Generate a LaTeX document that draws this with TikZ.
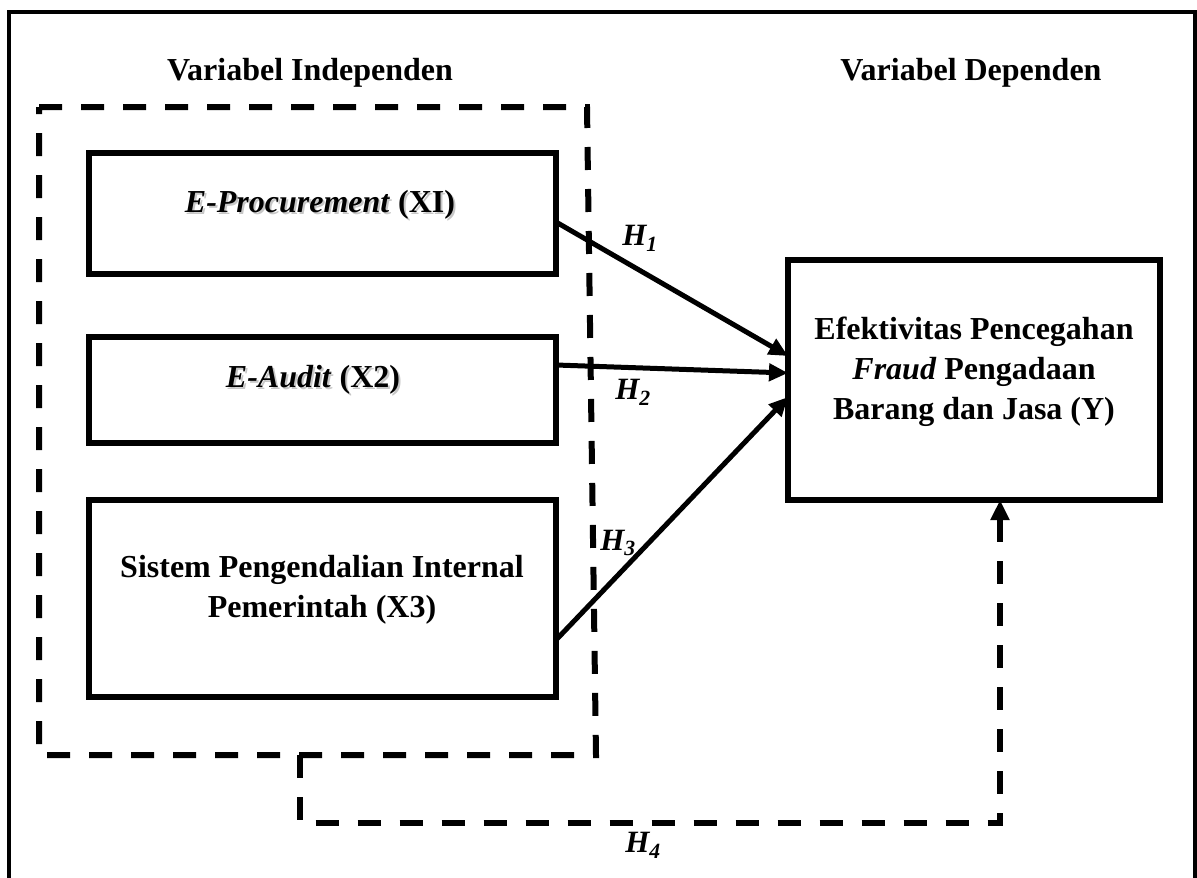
\documentclass[tikz,border=0pt]{standalone}
\usepackage{fontspec}
\setmainfont{Liberation Serif}
\usetikzlibrary{arrows.meta}
\begin{document}
\begin{tikzpicture}[x=1pt,y=-1pt,
  frameline/.style={line width=4.5pt},
  boxn/.style={draw, line width=5.5pt, inner sep=0pt, outer sep=0pt},
  txt/.style={font=\fontsize{32}{40}\selectfont\bfseries, inner sep=0pt, align=center},
  shadowtxt/.style={txt, text=black, opacity=0.22},
  hyp/.style={font=\fontsize{31}{36}\selectfont\bfseries\itshape, inner sep=0pt},
  arr/.style={line width=5pt, -{Triangle[length=19pt,width=17pt]}},
  dashline/.style={line width=6pt, dash pattern=on 23pt off 19pt},
]
\useasboundingbox (0,0) rectangle (1197,878);

% outer frame (bottom edge lies outside the picture)
\draw[frameline] (9,890) -- (9,12) -- (1195,12) -- (1195,890);

% titles
\node[txt, anchor=base] (tind) at (310,80) {Variabel Independen};
\node[txt, anchor=base] (tdep) at (971,80) {Variabel Dependen};

% dashed group box
\coordinate (g1) at (39,107);
\coordinate (g2) at (587,107);
\coordinate (g3) at (596,755);
\coordinate (g4) at (39,755);
\draw[dashline] (g1) -- (g2) -- (g3) -- (g4) -- cycle;

% boxes
\node[boxn, minimum width=467pt, minimum height=121pt] (X1) at (322.5,213.5) {};
\node[boxn, minimum width=467pt, minimum height=106pt] (X2) at (322.5,390) {};
\node[boxn, minimum width=467pt, minimum height=197pt] (X3) at (322.5,598.5) {};
\node[boxn, minimum width=372pt, minimum height=240pt] (Y) at (974,380) {};

% box texts
\node[shadowtxt, anchor=base] (X1s) at (322,214) {\textit{E-Procurement} (XI)};
\node[txt, anchor=base] (X1t) at (320,212) {\textit{E-Procurement} (XI)};
\node[shadowtxt, anchor=base] (X2s) at (315,389) {\textit{E-Audit} (X2)};
\node[txt, anchor=base] (X2t) at (313,387) {\textit{E-Audit} (X2)};
\node[txt] (X3t) at (322,590) {Sistem Pengendalian Internal\\Pemerintah (X3)};
\node[txt] (Yt) at (974,372) {Efektivitas Pencegahan\\\textit{Fraud} Pengadaan\\Barang dan Jasa (Y)};

% hypotheses arrows
\draw[arr] ([yshift=-8.5pt]X1.east) -- ([yshift=24pt]Y.west);
\draw[arr] ([yshift=25pt]X2.east) -- ([yshift=7pt]Y.west);
\draw[arr] ([yshift=-41.5pt]X3.east) -- ([yshift=-17pt]Y.west);

% H4 dashed connector
\coordinate (h4s) at (299.5,755);
\coordinate (h4c) at (1000,823);
\draw[dashline, -{Triangle[length=20pt,width=18pt]}] (h4s) |- (h4c) -- (h4c |- Y.south);

% labels
\node[hyp] (H1) at (640,238) {H\textsubscript{1}};
\node[hyp] (H2) at (633,392) {H\textsubscript{2}};
\node[hyp] (H3) at (618,543) {H\textsubscript{3}};
\node[hyp] (H4) at (643,845) {H\textsubscript{4}};
\end{tikzpicture}
\end{document}
